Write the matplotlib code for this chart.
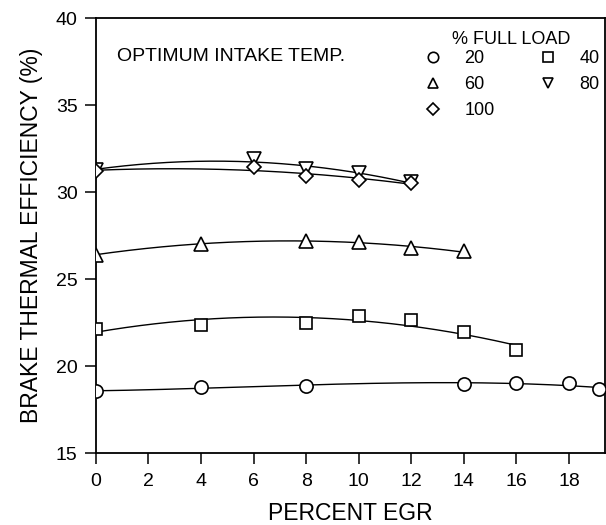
import numpy as np
import matplotlib
matplotlib.use("Agg")
import matplotlib.pyplot as plt

plt.rcParams['font.family'] = ['Liberation Sans', 'DejaVu Sans']

# Brake thermal efficiency (%) versus percent EGR at several loads
egr_20 = [0, 4, 8, 14, 16, 18, 19.15]
bte_20 = [18.57, 18.80, 18.88, 19.00, 19.03, 19.03, 18.67]

egr_40 = [0, 4, 8, 10, 12, 14, 16]
bte_40 = [22.14, 22.40, 22.49, 22.87, 22.64, 21.96, 20.92]

egr_60 = [0, 4, 8, 10, 12, 14]
bte_60 = [26.41, 27.04, 27.23, 27.12, 26.81, 26.60]

egr_80 = [0, 6, 8, 10, 12]
bte_80 = [31.30, 31.91, 31.34, 31.09, 30.57]

egr_100 = [0, 6, 8, 10, 12]
bte_100 = [31.24, 31.43, 30.92, 30.73, 30.54]

load_labels = ['20', '40', '60', '80', '100']
markers = ['o', 's', '^', 'v', 'D']
fit_degree = [3, 2, 2, 2, 2]

x_ticks = list(range(0, 19, 2))
y_ticks = [15, 20, 25, 30, 35, 40]

series = [(egr_20, bte_20), (egr_40, bte_40), (egr_60, bte_60),
          (egr_80, bte_80), (egr_100, bte_100)]

fig = plt.figure(figsize=(6.06, 5.25), dpi=100)
ax = fig.add_axes([0.158, 0.1366, 0.840, 0.8285])

x_max = 19.36
handles = {}
for (xs, ys), lab, mk, deg in zip(series, load_labels, markers, fit_degree):
    xs = np.asarray(xs, float)
    ys = np.asarray(ys, float)
    coef = np.polyfit(xs, ys, deg)
    x_end = x_max if lab == '20' else xs.max()
    xf = np.linspace(xs.min(), x_end, 200)
    ax.plot(xf, np.polyval(coef, xf), color='black', lw=1.0, zorder=2)
    ms = {'o': 9.5, 's': 8.5, '^': 9.5, 'v': 9.5, 'D': 7.5}[mk]
    ax.plot(xs, ys, linestyle='none', marker=mk, ms=ms, mfc='white',
            mec='black', mew=1.2, zorder=3)
    lms = {'o': 7.5, 's': 7, '^': 7.5, 'v': 7.5, 'D': 6.5}[mk]
    handles[lab] = plt.Line2D([], [], linestyle='none', marker=mk, ms=lms,
                              mfc='white', mec='black', mew=1.2)

order = ['20', '60', '100', '40', '80']
leg = ax.legend([handles[k] for k in order], order, ncol=2,
                title='% FULL LOAD', frameon=False, fontsize=13,
                title_fontsize=13, loc='upper right',
                bbox_to_anchor=(0.990, 0.972), handlelength=1.2,
                handletextpad=1.15, columnspacing=2.35, labelspacing=0.5,
                borderpad=0.0, borderaxespad=0.0)
# tighter gap between the legend title and its entries
leg._legend_box.sep = 2.0

ax.text(0.81, 37.83, 'OPTIMUM INTAKE TEMP.', fontsize=14, va='center',
        ha='left')

ax.set_xlim(0, x_max)
ax.set_ylim(15, 40)
ax.set_xticks(x_ticks)
ax.set_xticklabels([str(t) for t in x_ticks])
ax.set_yticks(y_ticks)
ax.tick_params(axis='both', direction='out', length=8, width=1.1,
               labelsize=14, colors='black')
ax.tick_params(axis='x', pad=6)
ax.tick_params(axis='y', pad=5)
for sp in ax.spines.values():
    sp.set_linewidth(1.3)

ax.set_xlabel('PERCENT EGR', fontsize=16.5, labelpad=9)
ax.set_ylabel('BRAKE THERMAL EFFICIENCY (%)', fontsize=16.5, labelpad=9)

fig.savefig('out.png', dpi=100)
